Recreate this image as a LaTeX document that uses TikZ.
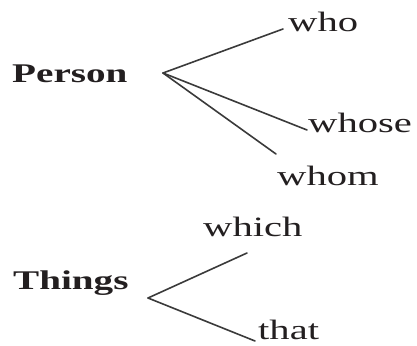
\documentclass[tikz,border=0pt]{standalone}
\usepackage{fontspec}
\setmainfont{Liberation Serif}[FakeStretch=1.45]
\usepackage{xcolor}
\usetikzlibrary{positioning}
\definecolor{inkc}{HTML}{231F20}
\definecolor{branchc}{HTML}{3A3A3A}

\begin{document}
\begin{tikzpicture}[x=1pt, y=1pt,
  hd/.style={anchor=base west, inner sep=0pt, text=inkc,
             font=\fontsize{27}{30}\selectfont\bfseries},
  wd/.style={anchor=base west, inner sep=0pt, text=inkc,
             font=\fontsize{28}{30}\selectfont},
  br/.style={draw=branchc, line width=1.6pt, line cap=round, line join=round}]
\useasboundingbox (0,0) rectangle (417,345);
% Person group
\node[hd] (person) at (12,262) {Person};
\coordinate (pfork) at (163,272);
\node[wd] (who) at (288,313) {who};
\node[wd] (whose) at (308,212) {whose};
\node[wd] (whom) at (277,159) {whom};
\draw[br] (pfork) -- ([shift={(-5pt,3pt)}]who.base west);
\draw[br] (pfork) -- ([shift={(-1pt,3pt)}]whose.base west);
\draw[br] (pfork) -- ([shift={(-1pt,32pt)}]whom.base west);
% Things group
\node[hd] (things) at (13,56) {Things};
\coordinate (tfork) at (148,47);
\node[wd] (which) at (203,108) {which};
\node[wd] (that) at (258,6) {that};
\draw[br] (tfork) -- ([shift={(44pt,-16pt)}]which.base west);
\draw[br] (tfork) -- ([shift={(-3pt,-2pt)}]that.base west);
\end{tikzpicture}
\end{document}
